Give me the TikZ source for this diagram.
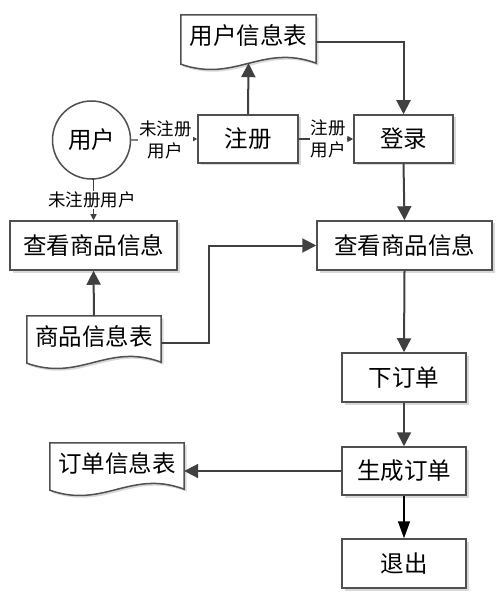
\documentclass[tikz,border=0pt]{standalone}
\usepackage{fontspec}
\newfontfamily\cjk{Noto Sans CJK SC}
\usetikzlibrary{arrows.meta,calc,shadows}
\definecolor{ln}{HTML}{404040}
\definecolor{bd}{HTML}{505050}
\begin{document}
\begin{tikzpicture}[x=1pt,y=-1pt,
  box/.style={draw=bd,line width=1.5pt,fill=white,inner sep=0pt,
    font=\cjk\fontsize{23.5}{27}\selectfont,
    drop shadow={shadow xshift=2.5pt,shadow yshift=-2.5pt,fill=black!15,opacity=1}},
  doc/.style={inner sep=0pt,font=\cjk\fontsize{23.5}{27}\selectfont},
  docline/.style={draw=bd,line width=1.5pt,fill=white},
  big/.style={draw=ln,line width=2pt,-{Triangle[length=14pt,width=14pt]}},
  thin/.style={draw=ln,line width=1.3pt,-{Triangle[length=6pt,width=6pt]}},
  blk/.style={draw=black,line width=1.6pt,-{Triangle[length=17pt,width=12pt]}},
  lbl/.style={fill=white,inner sep=1pt,align=center,
    font=\cjk\fontsize{17.5}{22}\selectfont}]
\useasboundingbox (0,0) rectangle (503,601);

% document shapes (drawn as nodes + wavy outline)
\node[doc,minimum width=135,minimum height=42] (utab) at (248.5,36) {};
\node[doc,minimum width=134,minimum height=40] (gtab) at (94,336) {};
\node[doc,minimum width=134,minimum height=40] (otab) at (117,463) {};
\foreach \n in {utab,gtab,otab}{
  \fill[black!15] ($(\n.north west)+(2.5,2.5)$) -- ($(\n.north east)+(2.5,2.5)$)
    -- ($(\n.south east)+(2.5,8.5)$)
    .. controls ($(\n.south)+(2.5+0.1*134,-12)$) and ($(\n.south)+(2.5-0.1*134,28)$)
    .. ($(\n.south west)+(2.5,9.5)$) -- cycle;
  \draw[docline] (\n.north west) -- (\n.north east) -- ($(\n.south east)+(0,6)$)
    .. controls ($(\n.south)+(0.1*134,-14)$) and ($(\n.south)+(-0.1*134,26)$)
    .. ($(\n.south west)+(0,7)$) -- cycle;
}
\node[doc] at (utab) {用户信息表};
\node[doc] at (gtab) {商品信息表};
\node[doc] at (otab) {订单信息表};

% user circle
\node[circle,draw=bd,line width=1.5pt,fill=white,minimum size=78,inner sep=0pt,
  font=\cjk\fontsize{23.5}{27}\selectfont] (user) at (91.5,140) {用户};

% boxes
\node[box,minimum width=100,minimum height=48] (reg) at (248,139) {注册};
\node[box,minimum width=99,minimum height=48] (login) at (403.5,139) {登录};
\node[box,minimum width=167,minimum height=49] (view1) at (93.5,245.5) {查看商品信息};
\node[box,minimum width=175,minimum height=49] (view2) at (404.5,245.5) {查看商品信息};
\node[box,minimum width=124,minimum height=49] (order) at (404,377.5) {下订单};
\node[box,minimum width=124,minimum height=48] (gen) at (404,471) {生成订单};
\node[box,minimum width=124,minimum height=49] (quit) at (404,563.5) {退出};

% coordinates on document outlines
\coordinate (utabB) at ($(utab.south)+(0,6)$);
\coordinate (utabE) at ($(utab.east)+(0,6)$);
\coordinate (gtabE) at ($(gtab.east)+(0,7)$);
\coordinate (otabE) at (otab.east |- gen.west);

% connectors
\draw[thin] (user.east) -- (reg.west)
  node[lbl,midway,xshift=1pt] {未注册\\用户};
\draw[thin] (reg.east) -- (login.west)
  node[lbl,midway,xshift=2pt] {注册\\用户};
\draw[thin] (user.south) -- (view1.north |- user.south) -- (view1.north);
\node[lbl] (ulbl) at (92,200) {未注册用户};

\draw[big] (reg.north) -- (utabB);
\draw[big] (utabE) -| (login.north);
\draw[big] (login.south) -- (view2.north);
\draw[big] (gtab.north) -- (view1.south);
\draw[big] (gtabE) -- ++(48,0) |- (view2.west);
\draw[big] (view2.south) -- (order.north);
\draw[big] (order.south) -- (gen.north);
\draw[big] (gen.west) -- (otabE);
\draw[blk] (gen.south) -- (quit.north);
\end{tikzpicture}
\end{document}
